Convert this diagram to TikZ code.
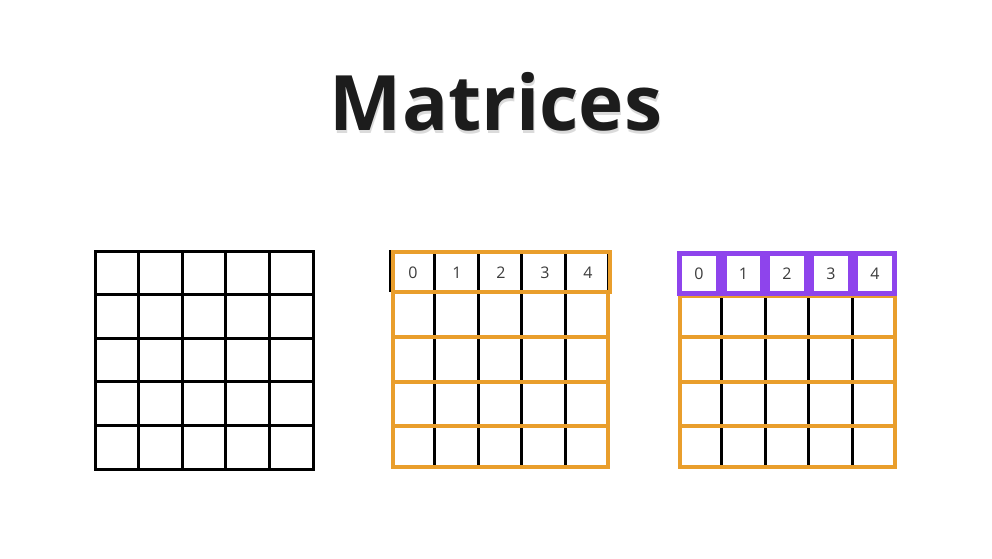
\documentclass[tikz,border=0pt]{standalone}
\usepackage{fontspec}
\setmainfont{Open Sans}
\definecolor{gridorange}{RGB}{233,158,44}
\definecolor{gridpurple}{RGB}{142,68,236}
\definecolor{titleink}{RGB}{28,28,28}
\definecolor{digitink}{RGB}{60,60,60}
\newcommand{\shadowed}[1]{\makebox[0pt][l]{\hspace{1pt}\raisebox{-3pt}{\color{black!14}#1}}#1}

\begin{document}
\begin{tikzpicture}[
  x=1pt, y=-1pt,
  blackline/.style={line width=3pt, black},
  orangerow/.style={draw=gridorange, line width=4pt},
  digit/.style={inner sep=0pt, font=\fontsize{16}{16}\selectfont, text=digitink},
  purplecell/.style={rectangle, draw=gridpurple, line width=5.5pt, minimum width=39pt, minimum height=40pt, inner sep=0pt, fill=white},
]
  \useasboundingbox (0,0) rectangle (992,558);

  % title
  \node[anchor=base, text=titleink, font=\fontsize{76.5}{76.5}\selectfont\bfseries] (title) at (496,130) {\shadowed{Matrices}};

  % plain grid
  \foreach \i in {1,...,4} {
    \draw[blackline] (95+43.6*\i, 251) -- (95+43.6*\i, 469);
    \draw[blackline] (95, 251+43.6*\i) -- (313, 251+43.6*\i);
  }
  \draw[blackline] (95,251) rectangle (313,469);

  % grid with indexed row
  \foreach \i in {1,...,4}
    \draw[blackline] (391+43.6*\i, 251) -- (391+43.6*\i, 469);
  \draw[line width=1.5pt, black] (390,250) -- (390,292);
  \draw[line width=1.5pt, black] (607.5,251) -- (607.5,292);
  \draw[orangerow] (393,252) rectangle (610,292);
  \draw[orangerow] (393,292) rectangle (608,337);
  \draw[orangerow] (393,337) rectangle (608,381.5);
  \draw[orangerow] (393,381.5) rectangle (608,425.5);
  \draw[orangerow] (393,425.5) rectangle (608,467);
  \node[digit] (a0) at (413,273) {0};
  \node[digit] (a1) at (457,273) {1};
  \node[digit] (a2) at (501,273) {2};
  \node[digit] (a3) at (545,273) {3};
  \node[digit] (a4) at (588,273) {4};

  % grid with boxed cells
  \foreach \i in {1,...,4}
    \draw[blackline] (678+43.6*\i, 297) -- (678+43.6*\i, 469);
  \draw[orangerow] (680,296) rectangle (895,337);
  \draw[orangerow] (680,337) rectangle (895,381.5);
  \draw[orangerow] (680,381.5) rectangle (895,425.5);
  \draw[orangerow] (680,425.5) rectangle (895,467);
  \node[purplecell] (b0) at (699,273.5) {};
  \node[purplecell] (b1) at (743.5,273.5) {};
  \node[purplecell] (b2) at (787,273.5) {};
  \node[purplecell] (b3) at (831,273.5) {};
  \node[purplecell] (b4) at (875,273.5) {};
  \node[digit] at (b0) {0};
  \node[digit] at (b1) {1};
  \node[digit] at (b2) {2};
  \node[digit] at (b3) {3};
  \node[digit] at (b4) {4};
\end{tikzpicture}
\end{document}
